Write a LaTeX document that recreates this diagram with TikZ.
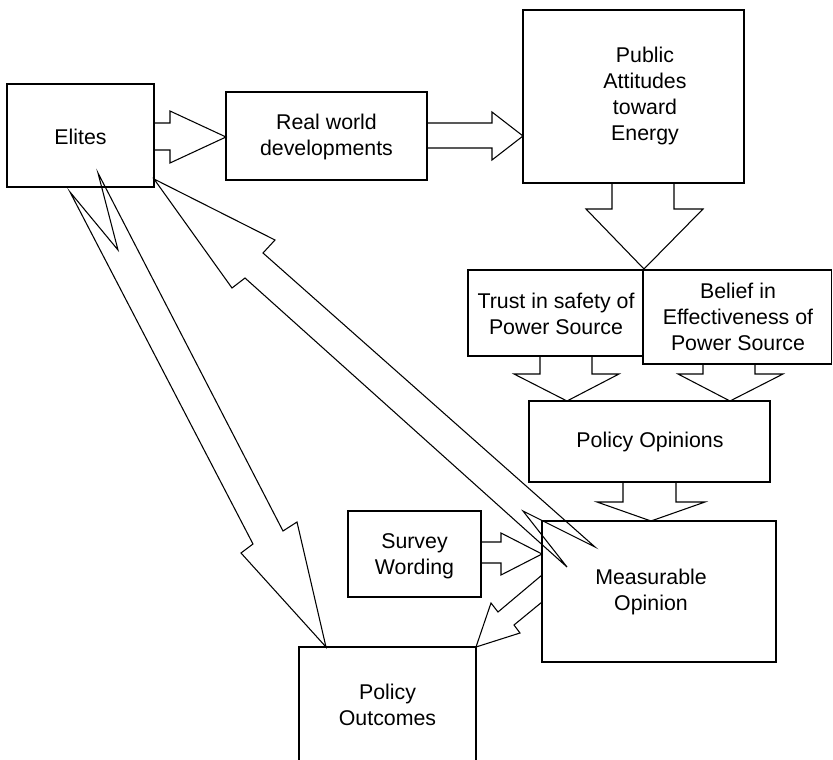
\documentclass[tikz,border=0pt]{standalone}
\usepackage{fontspec}
\setmainfont{Liberation Sans}
\usetikzlibrary{fit}
\begin{document}
\begin{tikzpicture}[x=0.75pt,y=-0.75pt,
  box/.style={draw, line width=0.8pt, inner sep=0pt},
  lbl/.style={align=center, font=\fontsize{16}{19.5}\selectfont, inner sep=0pt},
  blk/.style={draw, line width=0.8pt, line join=miter}]
\useasboundingbox (0,0) rectangle (833,760);
\clip (0,0) rectangle (833,760);
% boxes
\node[box, fit={(7,84) (154,187)}] (elites) {};
\node[box, fit={(226,92) (427,180)}] (real) {};
\node[box, fit={(523,10) (744,183)}] (pub) {};
\node[box, fit={(468,270) (643,356)}] (trust) {};
\node[box, fit={(643,270) (831.5,364)}] (belief) {};
\node[box, fit={(529,401) (770,482)}] (popin) {};
\node[box, fit={(348,511) (481,597)}] (survey) {};
\node[box, fit={(542,521) (776,662)}] (meas) {};
\node[box, fit={(299,647) (476,790)}] (outc) {};
% labels
\node[lbl] (telites) at (80.5,137) {Elites};
\node[lbl] (treal) at (326.5,137) {Real world\\developments};
\node[lbl] (tpub) at (645,96) {Public\\Attitudes\\toward\\Energy};
\node[lbl] (ttrust) at (556,314) {Trust in safety of\\Power Source};
\node[lbl] (tbelief) at (738,317) {Belief in\\Effectiveness of\\Power Source};
\node[lbl] (tpopin) at (650,442) {Policy Opinions};
\node[lbl] (tsurvey) at (414.5,556) {Survey\\Wording};
\node[lbl] (tmeas) at (651,592) {Measurable\\Opinion};
\node[lbl] (toutc) at (387.5,705) {Policy\\Outcomes};
% block arrows
\draw[blk] (154,123) -- (170,123) -- (170,111) -- (226,137) -- (170,163) -- (170,150) -- (154,150);
\draw[blk] (427,123) -- (492,123) -- (492,112) -- (523,136) -- (492,160) -- (492,148) -- (427,148);
\draw[blk] (612,183) -- (612,209) -- (586,209) -- (644,269) -- (703,209) -- (674,209) -- (674,183);
\draw[blk] (540,356) -- (540,374) -- (514,374) -- (567,401) -- (619,374) -- (592,374) -- (592,356);
\draw[blk] (703,364) -- (703,374) -- (678,374) -- (730,401) -- (783,374) -- (755,374) -- (755,364);
\draw[blk] (623,482) -- (623,502) -- (597,502) -- (651,521) -- (705,502) -- (676,502) -- (676,482);
\draw[blk] (481,542) -- (501,542) -- (501,533) -- (542,554) -- (501,575) -- (501,563) -- (481,563);
\draw[blk] (542,575) -- (498,612) -- (491,603) -- (476,647) -- (520,633) -- (514,625) -- (542,602);
% measurable -> elites (notched tail)
\draw[blk] (154,179) -- (275,240) -- (263,253) -- (595,547) -- (523,511) -- (567,567) -- (245,278) -- (232,288) -- cycle;
% elites -> policy outcomes (notched tail)
\draw[blk] (98,173) -- (283,531) -- (297,522) -- (326,647) -- (241,553) -- (253,544) -- (70,192) -- (118,250) -- cycle;
\end{tikzpicture}
\end{document}
